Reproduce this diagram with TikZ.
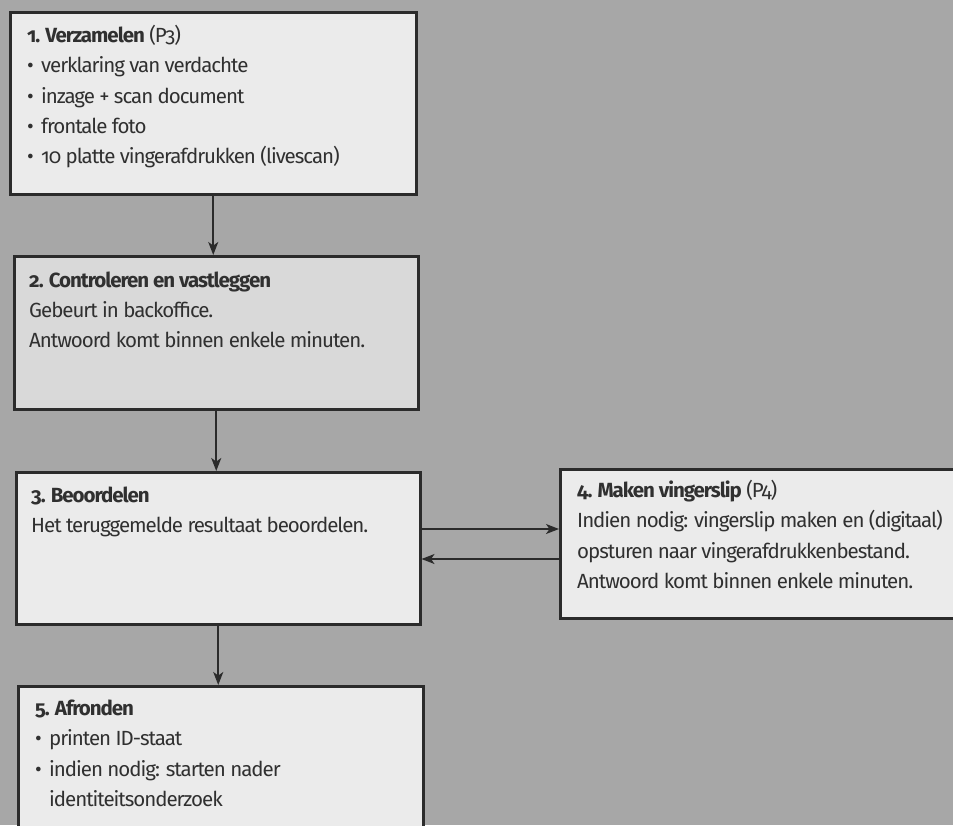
\documentclass[tikz,border=0pt]{standalone}
\usepackage{fontspec}
\setmainfont{Fira Sans}[Numbers=OldStyle,LetterSpace=-5]
\usetikzlibrary{arrows.meta,calc}
\definecolor{bg}{HTML}{A7A7A7}
\definecolor{boxfill}{HTML}{EBEBEB}
\definecolor{boxfilldark}{HTML}{D9D9D9}
\definecolor{boxline}{HTML}{2B2B2B}
\definecolor{ink}{HTML}{303030}
\newcommand\bul{\makebox[14pt][l]{\textbullet}}
\begin{document}
\begin{tikzpicture}[x=1pt,y=-1pt,
  box/.style={draw=boxline, line width=2.5pt, fill=boxfill, anchor=north west, inner sep=0pt},
  txt/.style={anchor=base west, inner sep=0pt, text=ink, font=\fontsize{20.5}{24}\selectfont},
  ttl/.style={txt, font=\fontsize{20.5}{24}\selectfont\bfseries},
  conn/.style={line width=1.6pt, draw=boxline, -{Stealth[length=13pt,width=10pt,inset=3.5pt]}}]
\useasboundingbox (0,0) rectangle (953,825);
\clip (0,0) rectangle (953,825);
\fill[bg] (0,0) rectangle (953,825);

% boxes
\node[box, minimum width=406pt, minimum height=182pt] (b1) at (9,11) {};
\node[box, fill=boxfilldark, minimum width=404pt, minimum height=153pt] (b2) at (13,255) {};
\node[box, minimum width=404pt, minimum height=152pt] (b3) at (15,471) {};
\node[box, minimum width=420pt, minimum height=149pt] (b4) at (559,468) {};
\node[box, minimum width=405pt, minimum height=200pt] (b5) at (17,685) {};

% box 1 text
\node[ttl] (t1a) at (27,42) {1. Verzamelen\mdseries\ (P3)};
\node[txt] (t1b) at (27,72) {\bul verklaring van verdachte};
\node[txt] (t1c) at (27,103) {\bul inzage + scan document};
\node[txt] (t1d) at (27,133) {\bul frontale foto};
\node[txt] (t1e) at (27,163) {\bul 10 platte vingerafdrukken (livescan)};

% box 2 text
\node[ttl] (t2a) at (29,287) {2. Controleren en vastleggen};
\node[txt] (t2b) at (29,317) {Gebeurt in backoffice.};
\node[txt] (t2c) at (29,347) {Antwoord komt binnen enkele minuten.};

% box 3 text
\node[ttl] (t3a) at (31,502) {3. Beoordelen};
\node[txt] (t3b) at (31,532) {Het teruggemelde resultaat beoordelen.};

% box 4 text
\node[ttl] (t4a) at (577,497) {4. Maken vingerslip\mdseries\ (P4)};
\node[txt] (t4b) at (577,527) {Indien nodig: vingerslip maken en (digitaal)};
\node[txt] (t4c) at (577,558) {opsturen naar vingerafdrukkenbestand.};
\node[txt] (t4d) at (577,588) {Antwoord komt binnen enkele minuten.};

% box 5 text
\node[ttl] (t5a) at (35,715) {5. Afronden};
\node[txt] (t5b) at (35,745) {\bul printen ID-staat};
\node[txt] (t5c) at (35,776) {\bul indien nodig: starten nader};
\node[txt] (t5d) at (49,806) {identiteitsonderzoek};

% connectors
\coordinate (ya) at (0,529);
\coordinate (yb) at (0,559);
\draw[conn] (b1.south) -- (b1.south |- b2.north);
\draw[conn] (b2.south) -- (b2.south |- b3.north);
\draw[conn] (b3.south) -- (b3.south |- b5.north);
\draw[conn] (b3.east |- ya) -- (b4.west |- ya);
\draw[conn] (b4.west |- yb) -- (b3.east |- yb);
\end{tikzpicture}
\end{document}
